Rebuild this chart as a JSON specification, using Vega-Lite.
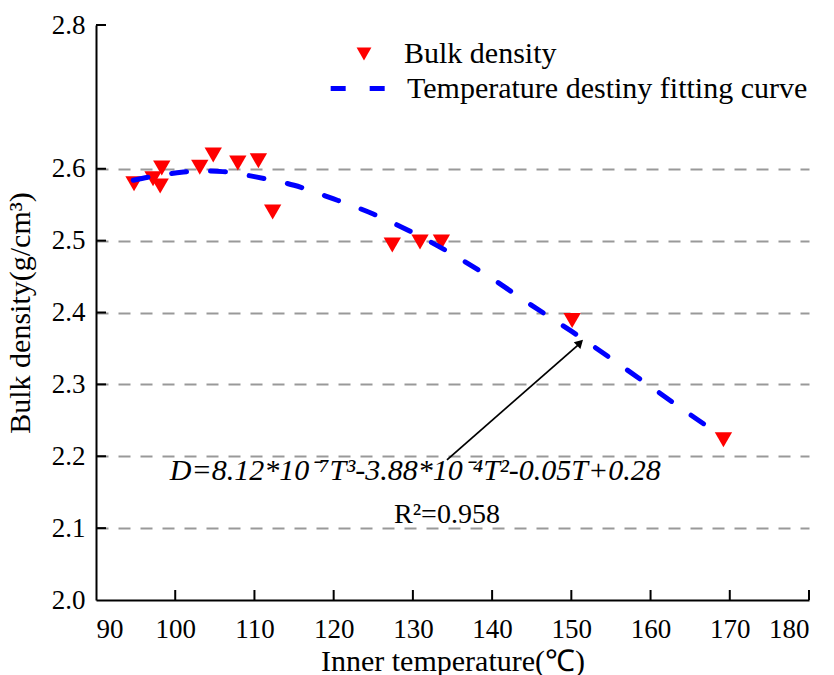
{
  "$schema": "https://vega.github.io/schema/vega-lite/v6.json",
  "width": 713,
  "height": 575,
  "autosize": {"type": "none"},
  "padding": {"left": 96, "top": 25, "right": 25, "bottom": 75},
  "background": "white",
  "config": {
    "view": {"stroke": null},
    "font": "Liberation Serif",
    "axis": {
      "labelFont": "Liberation Serif",
      "titleFont": "Liberation Serif",
      "labelColor": "black",
      "titleColor": "black",
      "domainColor": "black",
      "tickColor": "black",
      "domainWidth": 2,
      "ticks": false,
      "labelFontSize": 27,
      "titleFontSize": 30,
      "titleFontWeight": "normal"
    },
    "legend": {
      "labelFont": "Liberation Serif",
      "labelFontSize": 30,
      "labelColor": "black",
      "labelLimit": 800
    }
  },
  "datasets": {
    "obs": [
      {"T": 94.8, "D": 2.579, "series": "Bulk density"},
      {"T": 97.2, "D": 2.586, "series": "Bulk density"},
      {"T": 98.1, "D": 2.576, "series": "Bulk density"},
      {"T": 98.3, "D": 2.601, "series": "Bulk density"},
      {"T": 103.1, "D": 2.602, "series": "Bulk density"},
      {"T": 104.8, "D": 2.619, "series": "Bulk density"},
      {"T": 107.9, "D": 2.608, "series": "Bulk density"},
      {"T": 110.5, "D": 2.611, "series": "Bulk density"},
      {"T": 112.3, "D": 2.540, "series": "Bulk density"},
      {"T": 127.4, "D": 2.494, "series": "Bulk density"},
      {"T": 130.9, "D": 2.498, "series": "Bulk density"},
      {"T": 133.6, "D": 2.498, "series": "Bulk density"},
      {"T": 150.1, "D": 2.389, "series": "Bulk density"},
      {"T": 169.2, "D": 2.223, "series": "Bulk density"}
    ],
    "fit": [
      {"T": 94.7, "D": 2.584, "series": "Temperature destiny fitting curve"},
      {"T": 97.5, "D": 2.590, "series": "Temperature destiny fitting curve"},
      {"T": 100, "D": 2.594, "series": "Temperature destiny fitting curve"},
      {"T": 103, "D": 2.597, "series": "Temperature destiny fitting curve"},
      {"T": 106, "D": 2.596, "series": "Temperature destiny fitting curve"},
      {"T": 110, "D": 2.589, "series": "Temperature destiny fitting curve"},
      {"T": 115, "D": 2.577, "series": "Temperature destiny fitting curve"},
      {"T": 120, "D": 2.558, "series": "Temperature destiny fitting curve"},
      {"T": 125, "D": 2.537, "series": "Temperature destiny fitting curve"},
      {"T": 130, "D": 2.511, "series": "Temperature destiny fitting curve"},
      {"T": 135, "D": 2.481, "series": "Temperature destiny fitting curve"},
      {"T": 140, "D": 2.447, "series": "Temperature destiny fitting curve"},
      {"T": 145, "D": 2.410, "series": "Temperature destiny fitting curve"},
      {"T": 150, "D": 2.374, "series": "Temperature destiny fitting curve"},
      {"T": 155, "D": 2.336, "series": "Temperature destiny fitting curve"},
      {"T": 160, "D": 2.297, "series": "Temperature destiny fitting curve"},
      {"T": 165, "D": 2.258, "series": "Temperature destiny fitting curve"},
      {"T": 169, "D": 2.228, "series": "Temperature destiny fitting curve"}
    ],
    "xticks": [{"v": 100}, {"v": 110}, {"v": 120}, {"v": 130}, {"v": 140}, {"v": 150}, {"v": 160}, {"v": 170}, {"v": 180}],
    "yticks": [{"v": 2.1}, {"v": 2.2}, {"v": 2.3}, {"v": 2.4}, {"v": 2.5}, {"v": 2.6}, {"v": 2.8}]
  },
  "layer": [
    {
      "data": {"name": "obs"},
      "mark": {"type": "point", "filled": true, "color": "#ff0000", "size": 300, "opacity": 1},
      "encoding": {
        "x": {
          "field": "T", "type": "quantitative",
          "scale": {"domain": [90, 180], "nice": false, "zero": false},
          "axis": {
            "title": "Inner temperature(℃)",
            "values": [90, 100, 110, 120, 130, 140, 150, 160, 170, 180],
            "grid": false,
            "labelFont": "Liberation Serif",
            "labelPadding": 16,
            "titlePadding": 4
          }
        },
        "y": {
          "field": "D", "type": "quantitative",
          "scale": {"domain": [2.0, 2.8], "nice": false, "zero": false},
          "axis": {
            "title": "Bulk density(g/cm³)",
            "values": [2.0, 2.1, 2.2, 2.3, 2.4, 2.5, 2.6, 2.8],
            "format": ".1f",
            "labelFont": "Liberation Serif",
            "labelPadding": 11,
            "titlePadding": 16,
            "grid": true,
            "gridColor": "#999999",
            "gridWidth": 2,
            "gridDash": [12, 10],
            "gridOpacity": {"condition": {"test": "datum.value < 2.05 || datum.value > 2.65", "value": 0}, "value": 1}
          }
        },
        "shape": {
          "field": "series", "type": "nominal",
          "scale": {"range": ["triangle-down"]},
          "legend": {
            "title": null,
            "orient": "none",
            "legendX": 253,
            "legendY": 14,
            "symbolFillColor": "#ff0000",
            "symbolStrokeColor": "#ff0000",
            "symbolSize": 220,
            "labelOffset": 25,
            "symbolOffset": 0
          }
        }
      }
    },
    {
      "data": {"name": "fit"},
      "mark": {"type": "line", "color": "#0000ff", "strokeWidth": 5, "strokeCap": "round", "interpolate": "monotone"},
      "encoding": {
        "x": {"field": "T", "type": "quantitative"},
        "y": {"field": "D", "type": "quantitative"},
        "strokeDash": {
          "field": "series", "type": "nominal",
          "scale": {"range": [[15, 24]]},
          "legend": {
            "title": null,
            "orient": "none",
            "legendX": 232,
            "legendY": 30,
            "symbolType": "stroke",
            "symbolStrokeColor": "#0000ff",
            "symbolStrokeWidth": 5,
            "symbolSize": 3800,
            "labelOffset": 12
          }
        }
      }
    },
    {
      "data": {"name": "xticks"},
      "mark": {"type": "rule", "color": "black", "strokeWidth": 2},
      "encoding": {
        "x": {"field": "v", "type": "quantitative"},
        "y": {"datum": 2.0},
        "y2": {"datum": 2.0139}
      }
    },
    {
      "data": {"name": "yticks"},
      "mark": {"type": "rule", "color": "black", "strokeWidth": 2},
      "encoding": {
        "y": {"field": "v", "type": "quantitative"},
        "x": {"datum": 90},
        "x2": {"datum": 91.26}
      }
    },
    {
      "data": {"values": [{}]},
      "mark": {"type": "rule", "color": "black", "strokeWidth": 1.8},
      "encoding": {
        "x": {"datum": 134.3},
        "y": {"datum": 2.195},
        "x2": {"datum": 151.2},
        "y2": {"datum": 2.358}
      }
    },
    {
      "data": {"values": [{}]},
      "mark": {"type": "point", "shape": "triangle-up", "filled": true, "color": "black", "size": 90, "angle": 46, "opacity": 1},
      "encoding": {
        "x": {"datum": 151.1},
        "y": {"datum": 2.358}
      }
    },
    {
      "data": {"values": [{}]},
      "mark": {"type": "text", "fontSize": 30, "fontStyle": "italic", "font": "Liberation Serif", "color": "black", "align": "center", "baseline": "middle"},
      "encoding": {
        "x": {"datum": 130.3},
        "y": {"datum": 2.18},
        "text": {"value": "D=8.12*10⁻⁷T³-3.88*10⁻⁴T²-0.05T+0.28"}
      }
    },
    {
      "data": {"values": [{}]},
      "mark": {"type": "text", "fontSize": 28, "font": "Liberation Serif", "color": "black", "align": "center", "baseline": "middle"},
      "encoding": {
        "x": {"datum": 134.3},
        "y": {"datum": 2.118},
        "text": {"value": "R²=0.958"}
      }
    }
  ]
}
